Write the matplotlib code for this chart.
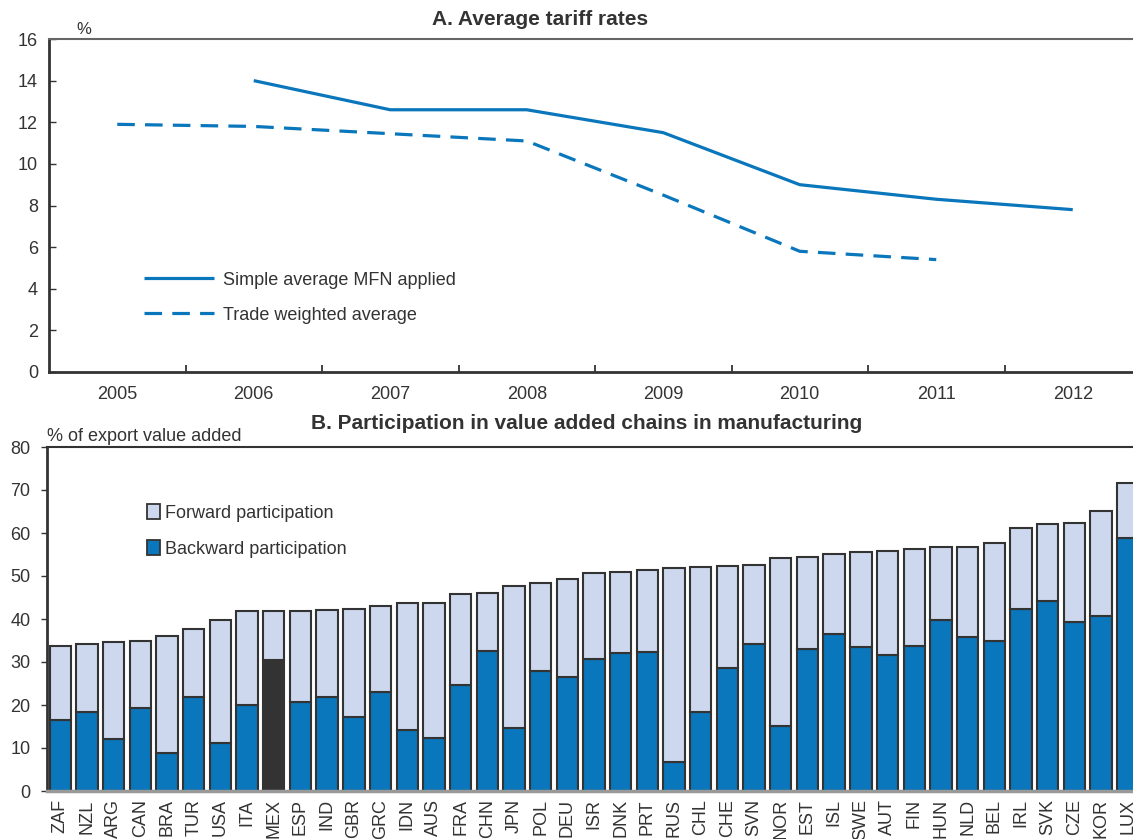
import numpy as np
import matplotlib.pyplot as plt
from matplotlib.patches import Patch

plt.rcParams['font.family'] = ['Liberation Sans Narrow', 'Liberation Sans', 'DejaVu Sans']
plt.rcParams['text.color'] = '#333333'
plt.rcParams['xtick.color'] = '#333333'
plt.rcParams['ytick.color'] = '#333333'

# Panel A data
years = [2005, 2006, 2007, 2008, 2009, 2010, 2011, 2012]
mfn_simple = [np.nan, 14.0, 12.6, 12.6, 11.5, 9.0, 8.3, 7.8]
trade_weighted = [11.9, 11.8, 11.45, 11.1, 8.5, 5.8, 5.4, np.nan]

# Panel B data
countries = ["ZAF", "NZL", "ARG", "CAN", "BRA", "TUR", "USA", "ITA", "MEX", "ESP",
             "IND", "GBR", "GRC", "IDN", "AUS", "FRA", "CHN", "JPN", "POL", "DEU",
             "ISR", "DNK", "PRT", "RUS", "CHL", "CHE", "SVN", "NOR", "EST", "ISL",
             "SWE", "AUT", "FIN", "HUN", "NLD", "BEL", "IRL", "SVK", "CZE", "KOR", "LUX"]
total = [33.8, 34.1, 34.6, 34.8, 36.1, 37.7, 39.8, 41.8, 41.8, 41.9,
         42.2, 42.4, 43.0, 43.7, 43.8, 45.9, 46.0, 47.7, 48.3, 49.4,
         50.7, 51.0, 51.4, 51.9, 52.2, 52.4, 52.6, 54.1, 54.5, 55.2,
         55.6, 55.8, 56.3, 56.7, 56.8, 57.6, 61.1, 62.1, 62.3, 65.1, 71.6]
backward = [16.4, 18.3, 12.0, 19.4, 8.9, 21.8, 11.2, 20.0, 30.4, 20.6,
            21.8, 17.2, 23.0, 14.3, 12.4, 24.7, 32.6, 14.7, 27.8, 26.6,
            30.6, 32.0, 32.4, 6.8, 18.4, 28.5, 34.3, 15.2, 33.1, 36.5,
            33.5, 31.6, 33.7, 39.8, 35.8, 35.0, 42.3, 44.3, 39.3, 40.6, 58.9]
forward = [t - b for t, b in zip(total, backward)]

blue = '#0a76bb'
light = '#cdd8ee'
dark = '#333333'

fig = plt.figure(figsize=(11.33, 8.39), dpi=100)

# ---- Panel A ----
ax1 = fig.add_axes([49 / 1133, 467 / 839, 1092 / 1133, 333 / 839])
x = np.arange(len(years))
ax1.plot(x, mfn_simple, color=blue, lw=2.3, solid_capstyle='butt',
         label='Simple average MFN applied')
ax1.plot(x, trade_weighted, color=blue, lw=2.3, dashes=(5.5, 3.2),
         label='Trade weighted average')
ax1.set_xlim(-0.5, len(years) - 0.5)
ax1.set_ylim(0, 16)
ax1.set_yticks(range(0, 17, 2))
ax1.set_xticks(x)
ax1.set_xticklabels(years)
ax1.set_xticks(np.arange(len(years) - 1) + 0.5, minor=True)
ax1.tick_params(axis='x', which='major', length=0, labelsize=13, pad=10)
ax1.tick_params(axis='x', which='minor', direction='in', length=5, width=1.3, color=dark)
ax1.tick_params(axis='y', direction='in', length=5, width=1, labelsize=13,
                right=True, color=dark, pad=8)
for s in ax1.spines.values():
    s.set_color(dark)
    s.set_linewidth(2)
ax1.spines['top'].set_color('#666666')
ax1.spines['top'].set_linewidth(1.5)
ax1.set_title('A. Average tariff rates', fontsize=15, fontweight='bold',
              x=0.45, pad=10)
ax1.text(0.025, 1.005, '%', transform=ax1.transAxes, fontsize=12,
         ha='left', va='bottom')
ax1.legend(loc='upper left', bbox_to_anchor=(0.072, 0.35), frameon=False,
           fontsize=13, handlelength=3.9, labelspacing=1.0, handletextpad=0.5)

# ---- Panel B ----
ax2 = fig.add_axes([47 / 1133, 48 / 839, 1094 / 1133, 344 / 839])
xb = np.arange(len(countries))
back_colors = [dark if c == 'MEX' else blue for c in countries]
ax2.bar(xb, backward, width=0.8, color=back_colors, edgecolor='#333333', linewidth=1.5)
ax2.bar(xb, forward, bottom=backward, width=0.8, color=light,
        edgecolor='#333333', linewidth=1.5)
ax2.set_xlim(-0.5, len(countries) - 0.5)
ax2.set_ylim(0, 80)
ax2.set_yticks(range(0, 81, 10))
ax2.set_xticks(xb)
ax2.set_xticklabels(countries, rotation=90, fontsize=13)
ax2.tick_params(axis='x', length=0, pad=6)
ax2.tick_params(axis='y', direction='out', length=4, width=1, labelsize=13,
                color=dark, pad=8)
ax2.spines['left'].set_color(dark)
ax2.spines['left'].set_linewidth(2)
ax2.spines['top'].set_color(dark)
ax2.spines['top'].set_linewidth(1.5)
ax2.spines['right'].set_color(dark)
ax2.spines['right'].set_linewidth(1.5)
ax2.spines['bottom'].set_color('#999999')
ax2.spines['bottom'].set_linewidth(2.5)
ax2.set_title('B. Participation in value added chains in manufacturing',
              fontsize=15, fontweight='bold', x=0.493, pad=13)
ax2.text(0.0, 1.005, '% of export value added', transform=ax2.transAxes,
         fontsize=13, ha='left', va='bottom')
handles = [Patch(facecolor=light, edgecolor='#333333', linewidth=1.3,
                 label='Forward participation'),
           Patch(facecolor=blue, edgecolor='#333333', linewidth=1.3,
                 label='Backward participation')]
ax2.legend(handles=handles, loc='upper left', bbox_to_anchor=(0.085, 0.855),
           frameon=False, fontsize=13, handlelength=0.7, handleheight=0.9,
           handletextpad=0.3, labelspacing=1.0, borderaxespad=0)

fig.savefig('out.png', dpi=100)
